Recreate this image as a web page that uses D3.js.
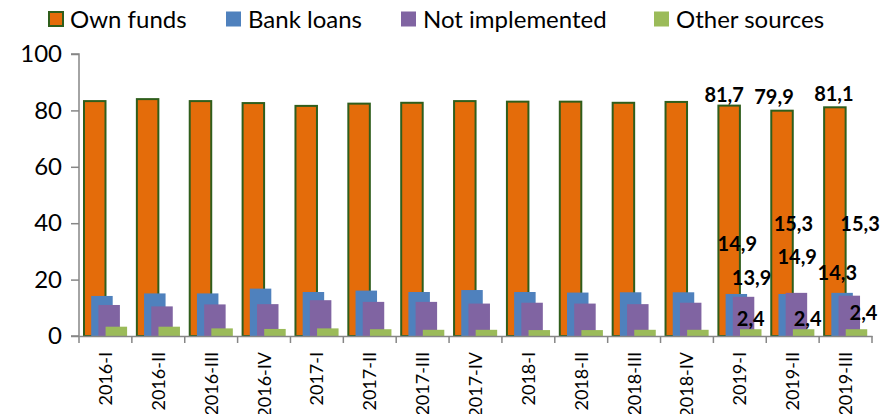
<!DOCTYPE html>
<html>
<head>
<meta charset="utf-8">
<script src="https://cdn.jsdelivr.net/npm/d3@7"></script>
<style>
  body { margin: 0; background: #fff; }
  svg text { font-family: Lato, "Liberation Sans", sans-serif; fill: #000; }
</style>
</head>
<body>
<svg id="chart" width="881" height="414"></svg>
<script>
var quarters = ["2016-I", "2016-II", "2016-III", "2016-IV", "2017-I", "2017-II", "2017-III", "2017-IV",
                "2018-I", "2018-II", "2018-III", "2018-IV", "2019-I", "2019-II", "2019-III"];
var seriesNames = ["Own funds", "Bank loans", "Not implemented", "Other sources"];
var ownFunds       = [83.3, 84.0, 83.3, 82.6, 81.6, 82.4, 82.7, 83.3, 83.1, 83.1, 82.7, 83.0, 81.7, 79.9, 81.1];
var bankLoans      = [14.2, 15.1, 15.1, 16.8, 15.6, 16.1, 15.6, 16.3, 15.6, 15.4, 15.5, 15.5, 14.9, 14.9, 15.3];
var notImplemented = [11.0, 10.5, 11.2, 11.3, 12.7, 12.1, 12.1, 11.5, 11.8, 11.5, 11.3, 11.8, 13.9, 15.3, 14.3];
var otherSources   = [3.3, 3.3, 2.7, 2.5, 2.7, 2.4, 2.2, 2.2, 2.1, 2.1, 2.2, 2.2, 2.4, 2.4, 2.4];
var yTicks = [0, 20, 40, 60, 80, 100];
// only the last three quarters carry data labels
var labelledQuarters = ["2019-I", "2019-II", "2019-III"];

var seriesValues = [ownFunds, bankLoans, notImplemented, otherSources];
var colors = ["#E46C0A", "#4F81BD", "#8064A2", "#9BBB59"];

// hand placed labels in the original, kept as nudges from the bar top
var nudge = {
  "2019-I":   [[-5, -11], [1, -50], [8, -19], [0, -10]],
  "2019-II":  [[-8, -14], [8, -37], [-3, -69], [4, -10]],
  "2019-III": [[-1, -13], [18, -69], [-12, -23], [7, -16]]
};

var svg = d3.select("#chart");
var margin = {top: 54, left: 79, right: 9, bottom: 78};
var width = 881 - margin.left - margin.right,
    height = 414 - margin.top - margin.bottom;

var g = svg.append("g")
    .attr("transform", "translate(" + margin.left + "," + margin.top + ")");

var x = d3.scaleBand().domain(quarters).range([0, width]).padding(0);
var y = d3.scaleLinear().domain([0, 100]).range([height, 0]);
var barW = 21.5;
var inner = d3.scalePoint().domain(seriesNames).range([5, 5 + 3 * 7.2]);

seriesNames.forEach(function(name, si) {
  g.append("g").selectAll("rect")
    .data(quarters.map(function(q, i) { return {q: q, v: seriesValues[si][i]}; }))
    .enter().append("rect")
      .attr("x", function(d) { return x(d.q) + inner(name); })
      .attr("y", function(d) { return y(d.v); })
      .attr("width", barW)
      .attr("height", function(d) { return y(0) - y(d.v); })
      .attr("fill", colors[si])
      .attr("stroke", si == 0 ? "#2F5E1C" : "none")
      .attr("stroke-width", 2);
});

// axes
var yAxis = g.append("g")
    .call(d3.axisLeft(y).tickValues(yTicks).tickSize(8).tickPadding(9));
yAxis.selectAll("text").style("font-size", "24px");

var xAxis = g.append("g")
    .attr("transform", "translate(0," + height + ")")
    .call(d3.axisBottom(x).tickSize(0).tickFormat(""));

g.append("g").selectAll("line")
  .data(quarters.concat(["end"]))
  .enter().append("line")
    .attr("x1", function(d, i) { return i * x.step(); })
    .attr("x2", function(d, i) { return i * x.step(); })
    .attr("y1", height)
    .attr("y2", height + 7);

g.selectAll(".domain, .tick line, g > line")
  .attr("stroke", "#868686")
  .attr("stroke-width", 1.5);
g.selectAll("g > line").attr("stroke", "#868686").attr("stroke-width", 1.5);
yAxis.select(".domain").attr("d", "M-8," + height + "H0V0H-8");

g.append("g").selectAll("text")
  .data(quarters)
  .enter().append("text")
    .attr("transform", function(d) {
      return "translate(" + (x(d) + x.bandwidth() / 2) + "," + (height + 16) + ") rotate(-90)";
    })
    .attr("dy", "0.36em")
    .attr("text-anchor", "end")
    .style("font-size", "18px")
    .text(function(d) { return d; });

// data labels
var fmt = function(v) { return d3.format(".1f")(v).replace(".", ","); };
labelledQuarters.forEach(function(q) {
  var i = quarters.indexOf(q);
  seriesNames.forEach(function(name, si) {
    var v = seriesValues[si][i];
    var n = nudge[q][si];
    g.append("text")
      .attr("x", x(q) + inner(name) + barW / 2 + n[0])
      .attr("y", y(v) + n[1])
      .attr("dy", "0.36em")
      .attr("text-anchor", "middle")
      .style("font-size", "20px")
      .style("font-weight", "bold")
      .text(fmt(v));
  });
});

// legend
var legendX = [48, 226, 401, 654];
var legend = svg.append("g").selectAll("g")
  .data(seriesNames)
  .enter().append("g")
    .attr("transform", function(d, i) { return "translate(" + legendX[i] + ",19)"; });

legend.append("rect")
  .attr("x", function(d, i) { return i == 0 ? 1 : 0; })
  .attr("y", function(d, i) { return i == 0 ? -7 : -7.5; })
  .attr("width", function(d, i) { return i == 0 ? 14 : 15; })
  .attr("height", function(d, i) { return i == 0 ? 14 : 15; })
  .attr("fill", function(d, i) { return colors[i]; })
  .attr("stroke", function(d, i) { return i == 0 ? "#2F5E1C" : "none"; })
  .attr("stroke-width", 2);

legend.append("text")
  .attr("x", 22)
  .attr("dy", "0.36em")
  .style("font-size", "24px")
  .text(function(d) { return d; });
</script>
</body>
</html>
